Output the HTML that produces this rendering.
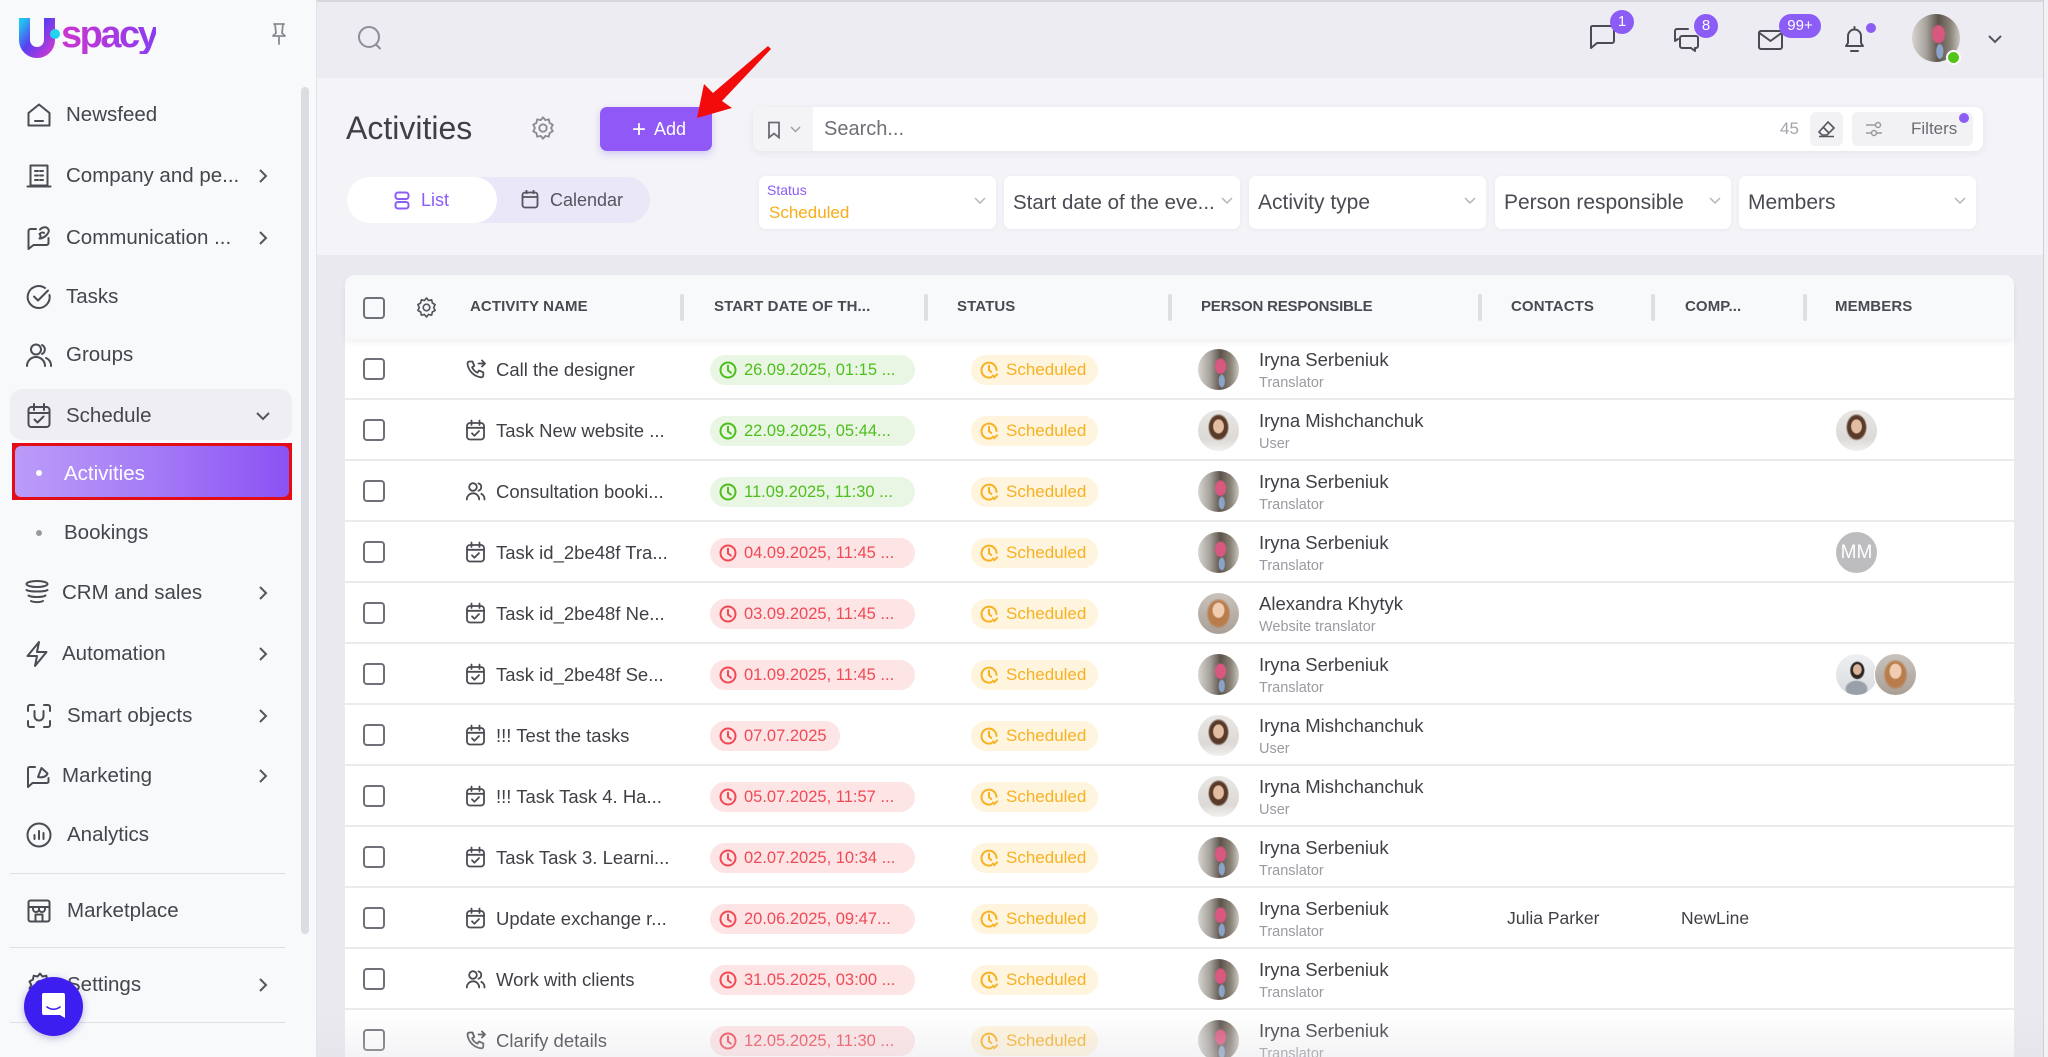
<!DOCTYPE html>
<html style="width:2048px;height:1057px;overflow:hidden"><head><meta charset="utf-8">
<style>
*{box-sizing:border-box;margin:0;padding:0}
html,body{width:2048px;height:1057px;overflow:hidden}
body{position:relative;font-family:"Liberation Sans",Arial,sans-serif;background:#e9e9ef;color:#3f3f46}
#root{position:absolute;left:0;top:0;width:2048px;height:1057px;overflow:hidden}
.a{position:absolute}
svg.i{position:absolute;fill:none;stroke:#4b4b53;stroke-width:2;stroke-linecap:round;stroke-linejoin:round}
.si{position:absolute;height:26px;line-height:26px;font-size:20.5px;color:#45454d;white-space:nowrap}
.chev{position:absolute;left:258px;width:10px;height:16px}
.dv{position:absolute;left:10px;width:275px;height:1px;background:#dfe0e5}
.fb{position:absolute;top:176px;height:53px;background:#fff;border-radius:7px;box-shadow:0 1px 4px rgba(60,60,90,.06)}
.fb .t{position:absolute;left:9px;top:0;line-height:53px;font-size:21px;color:#4a4a52;white-space:nowrap;overflow:hidden;width:210px}
.fb svg{position:absolute;right:10px;top:21px;width:12px;height:8px;fill:none;stroke:#b4b4bc;stroke-width:1.5}
.th{position:absolute;top:296px;line-height:20px;font-size:15px;font-weight:bold;color:#4a4a52;letter-spacing:.1px;white-space:nowrap}
.sep{position:absolute;top:293px;width:4px;height:27px;border-radius:2px;background:#dedee3}
.r{position:absolute;left:345px;width:1669px;height:61px;background:#fff;border-bottom:2px solid #ebebee}
.cb{position:absolute;left:18px;top:19px;width:22px;height:22px;border:2px solid #707078;border-radius:4px}
.r svg.ic{position:absolute;left:120px;top:19px;width:21px;height:22px;fill:none;stroke:#4b4b53;stroke-width:1.8;stroke-linecap:round;stroke-linejoin:round}
.nm{position:absolute;left:151px;top:1px;line-height:59px;font-size:18.5px;color:#3f3f46;white-space:nowrap}
.dp{position:absolute;left:365px;top:16px;width:205px;height:30px;border-radius:15px;font-size:16.5px;line-height:30px;padding-left:34px;white-space:nowrap}
.dp svg,.sp svg{position:absolute;left:8px;top:5px;width:20px;height:20px;fill:none;stroke:currentColor;stroke-width:2;stroke-linecap:round}
.g{background:#e9f6e4;color:#4fbf1d}
.rd{background:#fde4e5;color:#f04a56}
.sp{position:absolute;left:626px;top:16px;width:127px;height:30px;border-radius:15px;background:#fff4dd;color:#f7b122;font-size:17px;line-height:30px;padding-left:35px}
.av{position:absolute;left:853px;top:10px;width:41px;height:41px;border-radius:50%}
.s1{background:radial-gradient(ellipse 22% 30% at 55% 42%,#d9587f 0 55%,rgba(217,88,127,0) 70%),radial-gradient(ellipse 12% 25% at 58% 78%,#8aa3c6 0 55%,rgba(0,0,0,0) 70%),linear-gradient(90deg,#d7d5d2 0%,#a5a09a 30%,#5c534b 55%,#8c8378 80%,#c9c5bf 100%)}
.s2{background:radial-gradient(ellipse 20% 26% at 50% 40%,#e3bda2 0 60%,rgba(0,0,0,0) 72%),radial-gradient(ellipse 36% 46% at 50% 42%,#5a3a28 0 60%,rgba(0,0,0,0) 72%),linear-gradient(#e9e7e5,#dcd9d6 70%,#f2f0ee)}
.s3{background:radial-gradient(ellipse 22% 28% at 50% 42%,#f0cdb0 0 60%,rgba(0,0,0,0) 72%),radial-gradient(ellipse 40% 50% at 50% 50%,#b97d4c 0 60%,rgba(0,0,0,0) 75%),linear-gradient(#c9c3bd,#a99f96)}
.s4{background:radial-gradient(ellipse 16% 20% at 52% 38%,#d9b39a 0 60%,rgba(0,0,0,0) 72%),radial-gradient(ellipse 26% 32% at 52% 40%,#2f2622 0 60%,rgba(0,0,0,0) 72%),radial-gradient(ellipse 40% 30% at 50% 85%,#9aa0aa 0 60%,rgba(0,0,0,0) 72%),linear-gradient(#eef0f2,#d8dbdf)}
.pn{position:absolute;left:914px;top:10px;line-height:22px;font-size:18.5px;color:#3f3f46;white-space:nowrap}
.pr{position:absolute;left:914px;top:35px;line-height:18px;font-size:14.5px;color:#9a9aa2;white-space:nowrap}
.ct{position:absolute;top:1px;line-height:59px;font-size:17.5px;color:#3f3f46;white-space:nowrap}
.mb{position:absolute;top:9px;width:43px;height:43px;border-radius:50%;border:1px solid #fff}
.bdg{position:absolute;background:#8b5cf6;color:#fff;font-size:15px;text-align:center;border-radius:12px}
</style></head><body>
<div id="root">
<svg width="0" height="0" style="position:absolute">
<symbol id="clk" viewBox="0 0 20 20"><circle cx="10" cy="10" r="7.5"/><path d="M10 5.8V10.5L12.8 12.6"/></symbol>
<symbol id="sclk" viewBox="0 0 20 20"><path d="M12.5 17.2A7.5 7.5 0 1 1 17.5 10"/><path d="M10 5.8V10.2L12.3 12"/><path d="M13.8 15.6l1.5 1.5 2.8-2.8"/></symbol>
<symbol id="cal" viewBox="0 0 21 22"><rect x="2" y="4" width="17" height="16.5" rx="3"/><path d="M6.5 1.5v4.5M14.5 1.5v4.5M2 8.8h17M7 14.3l2.4 2.4 4.6-4.6"/></symbol>
<symbol id="phone" viewBox="0 0 21 22"><path d="M4.5 3.5h3l1.8 4.4-2.2 1.4a10.5 10.5 0 0 0 5.4 5.4l1.4-2.2 4.4 1.8v3a2 2 0 0 1-2.2 2A15.5 15.5 0 0 1 2.5 5.7a2 2 0 0 1 2-2.2z"/><path d="M13.5 5.5h6.3M17 2.5l3 3-3 3"/></symbol>
<symbol id="ppl" viewBox="0 0 21 22"><circle cx="8" cy="7" r="3.8"/><path d="M1.8 19.5a6.2 6.2 0 0 1 12.4 0"/><path d="M13.5 3.4a3.8 3.8 0 0 1 0 7.3M16.3 13.8a6 6 0 0 1 3.2 5.7"/></symbol>
</svg>

<!-- SIDEBAR -->
<div class="a" style="left:0;top:0;width:317px;height:1057px;background:#f8f9fb;border-right:1px solid #e3e4ea"></div>
<svg class="a" style="left:14px;top:14px" width="50" height="48" viewBox="14 14 50 48">
<defs><linearGradient id="ug" x1="0" y1="0" x2="1" y2="1"><stop offset="0" stop-color="#20c4f0"/><stop offset=".45" stop-color="#5b3df2"/><stop offset="1" stop-color="#c23ad4"/></linearGradient></defs>
<path d="M24.5 18V40A12.5 12.5 0 0 0 49.5 40V18" fill="none" stroke="url(#ug)" stroke-width="11"/>
<circle cx="55" cy="34" r="5" fill="#22d3ee"/>
</svg>
<div class="a" style="left:61px;top:16px;font-size:38px;font-weight:bold;letter-spacing:-2.5px;line-height:38px;background:linear-gradient(90deg,#cc36cf,#8a3cf0);-webkit-background-clip:text;background-clip:text;color:transparent">spacy</div>
<svg class="i" style="left:270px;top:22px" width="18" height="24" viewBox="0 0 18 24"><path d="M4 2h10M5 2l1 9-3 3h12l-3-3 1-9M9 14v8" stroke="#8a8a92" stroke-width="1.8"/></svg>

<div class="a" style="left:301px;top:87px;width:8px;height:847px;border-radius:4px;background:#dcdde3"></div>

<svg class="i" style="left:26px;top:102px" width="26" height="26" viewBox="0 0 26 26"><path d="M2.5 11L13 2.5 23.5 11v12.5h-21z"/><path d="M9 19h8"/></svg>
<div class="si" style="left:66px;top:102px">Newsfeed</div>

<svg class="i" style="left:26px;top:163px" width="26" height="26" viewBox="0 0 26 26"><rect x="4.5" y="2.5" width="17" height="20"/><path d="M1.5 23.5h23M9 8h3M14 8h3M9 12.5h3M14 12.5h3M9 17h3M14 17h3"/></svg>
<div class="si" style="left:66px;top:163px">Company and pe...</div>
<svg class="chev" style="top:168px" viewBox="0 0 10 16"><path d="M2 2l6 6-6 6" fill="none" stroke="#55555d" stroke-width="2"/></svg>

<svg class="i" style="left:26px;top:225px" width="26" height="26" viewBox="0 0 26 26"><path d="M10 4H4.5a2 2 0 0 0-2 2v18l5-4h13a2 2 0 0 0 2-2v-5"/><path d="M14 4.5c3-3 7-3 8.5 0s-4 9-9 9c1.5-1.5 1.5-3 0-4.5 2-2 3-2 4.5-1"/></svg>
<div class="si" style="left:66px;top:225px">Communication ...</div>
<svg class="chev" style="top:230px" viewBox="0 0 10 16"><path d="M2 2l6 6-6 6" fill="none" stroke="#55555d" stroke-width="2"/></svg>

<svg class="i" style="left:25px;top:283px" width="28" height="28" viewBox="0 0 28 28"><path d="M24.5 12A11 11 0 1 1 20 5"/><path d="M9 13.5l4 4 10-10"/></svg>
<div class="si" style="left:66px;top:284px">Tasks</div>

<svg class="i" style="left:25px;top:342px" width="28" height="26" viewBox="0 0 28 26"><circle cx="11" cy="7.5" r="5"/><path d="M2 24a9 9 0 0 1 18 0"/><path d="M17 3a5 5 0 0 1 0 9M21 16a8 8 0 0 1 5 8"/></svg>
<div class="si" style="left:66px;top:342px">Groups</div>

<div class="a" style="left:10px;top:389px;width:282px;height:51px;border-radius:12px;background:#efeff3"></div>
<svg class="i" style="left:26px;top:402px" width="26" height="27" viewBox="0 0 26 27"><rect x="2.5" y="5" width="21" height="20" rx="3"/><path d="M8 2v6M18 2v6M2.5 11h21M8.5 17.5l3 3 6-6"/></svg>
<div class="si" style="left:66px;top:403px">Schedule</div>
<svg class="a" style="left:255px;top:410px" width="16" height="12" viewBox="0 0 16 12"><path d="M2 3l6 6 6-6" fill="none" stroke="#55555d" stroke-width="2"/></svg>

<div class="a" style="left:12px;top:443px;width:280px;height:57px;background:#e30d17"></div>
<div class="a" style="left:15px;top:446px;width:274px;height:51px;border-radius:6px;background:linear-gradient(90deg,#bb9cf8,#a57bf6 50%,#8b52f4)"></div>
<div class="a" style="left:36px;top:470px;width:6px;height:6px;border-radius:50%;background:#fff"></div>
<div class="si" style="left:64px;top:461px;color:#fff">Activities</div>

<div class="a" style="left:36px;top:530px;width:6px;height:6px;border-radius:50%;background:#9a9aa2"></div>
<div class="si" style="left:64px;top:520px">Bookings</div>

<svg class="i" style="left:24px;top:579px" width="26" height="28" viewBox="0 0 26 28"><ellipse cx="13" cy="5" rx="10.5" ry="3"/><path d="M2.5 11c3 2 18 2 21 0M4.5 16.5c3 2 14 2 17 0M7 22c3 1.5 9 1.5 12 0"/></svg>
<div class="si" style="left:62px;top:580px">CRM and sales</div>
<svg class="chev" style="top:585px" viewBox="0 0 10 16"><path d="M2 2l6 6-6 6" fill="none" stroke="#55555d" stroke-width="2"/></svg>

<svg class="i" style="left:25px;top:640px" width="24" height="28" viewBox="0 0 24 28"><path d="M14 2L2.5 16H12l-2 10L21.5 12H12z"/></svg>
<div class="si" style="left:62px;top:641px">Automation</div>
<svg class="chev" style="top:646px" viewBox="0 0 10 16"><path d="M2 2l6 6-6 6" fill="none" stroke="#55555d" stroke-width="2"/></svg>

<svg class="i" style="left:26px;top:703px" width="26" height="26" viewBox="0 0 26 26"><path d="M2 8V4a2 2 0 0 1 2-2h4M18 2h4a2 2 0 0 1 2 2v4M24 18v4a2 2 0 0 1-2 2h-4M8 24H4a2 2 0 0 1-2-2v-4M8.5 8v5a4.5 4.5 0 0 0 9 0V8"/></svg>
<div class="si" style="left:67px;top:703px">Smart objects</div>
<svg class="chev" style="top:708px" viewBox="0 0 10 16"><path d="M2 2l6 6-6 6" fill="none" stroke="#55555d" stroke-width="2"/></svg>

<svg class="i" style="left:26px;top:763px" width="24" height="26" viewBox="0 0 24 26"><path d="M9 4H3.5a1.5 1.5 0 0 0-1.5 1.5V24l4.5-4H21a1.5 1.5 0 0 0 1.5-1.5V15"/><path d="M12 14l3.5-9 6 5.5c-1 3-5 4.5-9.5 3.5z"/></svg>
<div class="si" style="left:62px;top:763px">Marketing</div>
<svg class="chev" style="top:768px" viewBox="0 0 10 16"><path d="M2 2l6 6-6 6" fill="none" stroke="#55555d" stroke-width="2"/></svg>

<svg class="i" style="left:25px;top:821px" width="28" height="28" viewBox="0 0 28 28"><circle cx="14" cy="14" r="11.5"/><path d="M9.5 18v-4M14 18v-8M18.5 18v-6"/></svg>
<div class="si" style="left:67px;top:822px">Analytics</div>

<div class="dv" style="top:873px"></div>
<svg class="i" style="left:26px;top:898px" width="26" height="26" viewBox="0 0 26 26"><rect x="2.5" y="2.5" width="21" height="21" rx="2"/><path d="M2.5 9h21M7 9v2a3 3 0 0 0 6 0V9M13 11a3 3 0 0 0 6 0V9M9.5 23.5v-7h7v7"/></svg>
<div class="si" style="left:67px;top:898px">Marketplace</div>
<div class="dv" style="top:947px"></div>
<svg class="i" style="left:26px;top:971px" width="28" height="28" viewBox="0 0 28 28"><circle cx="14" cy="14" r="4"/><path d="M14 2.5l2.5 3 3.8-.8.8 3.8 3.4 2-1.8 3.5 1.8 3.5-3.4 2-.8 3.8-3.8-.8-2.5 3-2.5-3-3.8.8-.8-3.8-3.4-2 1.8-3.5-1.8-3.5 3.4-2 .8-3.8 3.8.8z"/></svg>
<div class="si" style="left:67px;top:972px">Settings</div>
<svg class="chev" style="top:977px" viewBox="0 0 10 16"><path d="M2 2l6 6-6 6" fill="none" stroke="#55555d" stroke-width="2"/></svg>
<div class="dv" style="top:1022px"></div>

<div class="a" style="left:24px;top:977px;width:59px;height:59px;border-radius:50%;background:#3c1ff0;box-shadow:0 2px 8px rgba(40,20,160,.3)"></div>
<svg class="a" style="left:41px;top:992px" width="25" height="28" viewBox="0 0 25 28"><path d="M3 1h19a2 2 0 0 1 2 2v23l-5-3H3a2 2 0 0 1-2-2V3a2 2 0 0 1 2-2z" fill="#fff"/><path d="M6 15c4 3 9 3 13 0" fill="none" stroke="#3c1ff0" stroke-width="1.6" stroke-linecap="round"/></svg>

<!-- TOP BAR -->
<div class="a" style="left:317px;top:0;width:1731px;height:78px;background:#ececf2;border-top:2px solid #d6d6db"></div>
<div class="a" style="left:317px;top:78px;width:1731px;height:177px;background:#f3f3f8"></div>
<div class="a" style="left:2043px;top:0;width:1px;height:1057px;background:#cfd0d6"></div>
<div class="a" style="left:2044px;top:0;width:4px;height:1057px;background:#f2f2f5"></div>

<svg class="i" style="left:355px;top:24px" width="30" height="30" viewBox="0 0 30 30"><circle cx="14" cy="13" r="10" stroke="#8e8e96"/><path d="M21 20.5l4 4" stroke="#8e8e96"/></svg>

<svg class="i" style="left:1588px;top:24px" width="28" height="26" viewBox="0 0 28 26"><path d="M4 2h20a2 2 0 0 1 2 2v13a2 2 0 0 1-2 2H9l-6 5V4a2 2 0 0 1 1-2z"/></svg>
<div class="bdg" style="left:1610px;top:10px;width:24px;height:24px;line-height:24px">1</div>
<svg class="i" style="left:1673px;top:27px" width="28" height="26" viewBox="0 0 28 26"><path d="M15 2H4a2 2 0 0 0-2 2v10l3-2"/><path d="M9 9h14a2 2 0 0 1 2 2v8a2 2 0 0 1-2 2h-1v3l-4-3H9a2 2 0 0 1-2-2v-8a2 2 0 0 1 2-2z"/></svg>
<div class="bdg" style="left:1694px;top:14px;width:24px;height:24px;line-height:24px">8</div>
<svg class="i" style="left:1757px;top:29px" width="28" height="22" viewBox="0 0 28 22"><rect x="2" y="2" width="23" height="18" rx="2"/><path d="M2.5 4l11 8 11-8"/></svg>
<div class="bdg" style="left:1779px;top:14px;width:42px;height:24px;line-height:24px">99+</div>
<svg class="i" style="left:1841px;top:25px" width="28" height="30" viewBox="0 0 28 30"><path d="M5 21h17l-2-3V11a6.5 6.5 0 0 0-13 0v7z"/><path d="M10 26h7M13.5 2v2"/></svg>
<div class="a" style="left:1866px;top:23px;width:10px;height:10px;border-radius:50%;background:#8b5cf6"></div>
<div class="a s1" style="left:1912px;top:14px;width:48px;height:48px;border-radius:50%"></div>
<div class="a" style="left:1946px;top:50px;width:15px;height:15px;border-radius:50%;background:#52c41a;border:2px solid #fff"></div>
<svg class="a" style="left:1987px;top:34px" width="16" height="10" viewBox="0 0 16 10"><path d="M2 2l6 6 6-6" fill="none" stroke="#55555d" stroke-width="2"/></svg>

<!-- HEADER -->
<div class="a" style="left:346px;top:109px;font-size:32px;line-height:38px;color:#3f3f46">Activities</div>
<svg class="i" style="left:530px;top:115px" width="26" height="26" viewBox="0 0 28 28"><circle cx="14" cy="14" r="4" stroke="#8a8a92"/><path stroke="#8a8a92" d="M14 2.5l2.5 3 3.8-.8.8 3.8 3.4 2-1.8 3.5 1.8 3.5-3.4 2-.8 3.8-3.8-.8-2.5 3-2.5-3-3.8.8-.8-3.8-3.4-2 1.8-3.5-1.8-3.5 3.4-2 .8-3.8 3.8.8z"/></svg>
<div class="a" style="left:600px;top:107px;width:112px;height:44px;border-radius:7px;background:#8f58f7;box-shadow:0 3px 8px rgba(120,70,230,.25);color:#fff;font-size:18px;line-height:44px;text-align:center;padding-left:6px"><span style="font-size:24px;vertical-align:-2px;margin-right:8px">+</span>Add</div>
<svg class="a" style="left:690px;top:40px" width="90" height="85" viewBox="690 40 90 85"><polygon points="697,118 704,84 713,93 768,46 771,49 722,101 732,108" fill="#f30b0b"/></svg>

<div class="a" style="left:347px;top:177px;width:303px;height:46px;border-radius:23px;background:#e9e7f8"></div>
<div class="a" style="left:347px;top:177px;width:150px;height:46px;border-radius:23px;background:#fff"></div>
<svg class="a" style="left:394px;top:191px" width="16" height="19" viewBox="0 0 16 19" fill="none" stroke="#8b5cf6" stroke-width="2"><rect x="1.5" y="1.5" width="13" height="6.5" rx="2.5"/><rect x="1.5" y="11" width="13" height="6.5" rx="2.5"/></svg>
<div class="a" style="left:421px;top:189px;font-size:18px;line-height:22px;color:#8b5cf6">List</div>
<svg class="a" style="left:521px;top:189px" width="18" height="20" viewBox="0 0 18 20" fill="none" stroke="#55555d" stroke-width="1.8"><rect x="1.5" y="3.5" width="15" height="15" rx="2.5"/><path d="M5.5 1v4M12.5 1v4M1.5 8h15"/></svg>
<div class="a" style="left:550px;top:189px;font-size:18px;line-height:22px;color:#55555d">Calendar</div>

<div class="a" style="left:753px;top:107px;width:1230px;height:44px;border-radius:8px;background:#fff;box-shadow:0 2px 7px rgba(60,60,90,.08)"></div>
<div class="a" style="left:753px;top:107px;width:60px;height:44px;border-radius:8px 0 0 8px;background:#f4f4f7"></div>
<svg class="a" style="left:767px;top:121px" width="38" height="18" viewBox="0 0 38 18" fill="none" stroke="#6b6b73" stroke-width="1.8"><path d="M2 1.5h10v15l-5-4-5 4z"/><path d="M24 6l4.5 4.5L33 6" stroke="#a0a0a8" stroke-width="1.5"/></svg>
<div class="a" style="left:824px;top:117px;font-size:20px;line-height:24px;color:#6f6f77">Search...</div>
<div class="a" style="left:1780px;top:119px;font-size:17px;line-height:20px;color:#a4a4ac">45</div>
<div class="a" style="left:1810px;top:112px;width:33px;height:34px;border-radius:6px;background:#f2f2f5"></div>
<svg class="a" style="left:1817px;top:120px" width="20" height="18" viewBox="0 0 20 18" fill="none" stroke="#55555d" stroke-width="1.6"><path d="M11 2l6 6-7 7H5l-3-3z"/><path d="M6 7l6 6M2 16.5h15"/></svg>
<div class="a" style="left:1852px;top:112px;width:121px;height:34px;border-radius:6px;background:#f2f2f5"></div>
<svg class="a" style="left:1865px;top:121px" width="18" height="16" viewBox="0 0 18 16" fill="none" stroke="#9a9aa2" stroke-width="1.5"><path d="M1 4h9M1 12h5"/><circle cx="13" cy="4" r="2.5"/><circle cx="9" cy="12" r="2.5"/><path d="M12 12h5"/></svg>
<div class="a" style="left:1911px;top:119px;font-size:17px;line-height:20px;color:#6b6b73">Filters</div>
<div class="a" style="left:1959px;top:113px;width:10px;height:10px;border-radius:50%;background:#8b5cf6"></div>

<div class="fb" style="left:759px;width:237px"><div class="a" style="left:8px;top:5px;font-size:14px;line-height:18px;color:#8b5cf6">Status</div><div class="a" style="left:10px;top:27px;font-size:17px;line-height:20px;color:#f7ad16">Scheduled</div><svg viewBox="0 0 12 8"><path d="M1 1l5 5 5-5"/></svg></div>
<div class="fb" style="left:1004px;width:236px"><div class="t" style="width:214px;font-size:20.5px">Start date of the eve...</div><svg style="right:7px" viewBox="0 0 12 8"><path d="M1 1l5 5 5-5"/></svg></div>
<div class="fb" style="left:1249px;width:237px"><div class="t">Activity type</div><svg viewBox="0 0 12 8"><path d="M1 1l5 5 5-5"/></svg></div>
<div class="fb" style="left:1495px;width:236px"><div class="t">Person responsible</div><svg viewBox="0 0 12 8"><path d="M1 1l5 5 5-5"/></svg></div>
<div class="fb" style="left:1739px;width:237px"><div class="t">Members</div><svg viewBox="0 0 12 8"><path d="M1 1l5 5 5-5"/></svg></div>

<!-- TABLE -->
<div class="a" style="left:345px;top:275px;width:1669px;height:782px;border-radius:10px 10px 0 0;background:#fff"></div>
<div class="a" style="left:345px;top:275px;width:1669px;height:64px;border-radius:10px 10px 0 0;background:#f8f9fb;box-shadow:0 3px 6px rgba(0,0,0,.06);z-index:2"></div>
<div style="position:absolute;left:0;top:1px;z-index:3">
<div class="a" style="left:363px;top:296px;width:22px;height:22px;border:2px solid #707078;border-radius:4px"></div>
<svg class="i" style="left:415px;top:295px" width="23" height="23" viewBox="0 0 28 28"><circle cx="14" cy="14" r="4" stroke="#55555d"/><path stroke="#55555d" d="M14 2.5l2.5 3 3.8-.8.8 3.8 3.4 2-1.8 3.5 1.8 3.5-3.4 2-.8 3.8-3.8-.8-2.5 3-2.5-3-3.8.8-.8-3.8-3.4-2 1.8-3.5-1.8-3.5 3.4-2 .8-3.8 3.8.8z"/></svg>
<div class="th" style="left:470px">ACTIVITY NAME</div>
<div class="sep" style="left:680px"></div>
<div class="th" style="left:714px">START DATE OF TH...</div>
<div class="sep" style="left:924px"></div>
<div class="th" style="left:957px">STATUS</div>
<div class="sep" style="left:1168px"></div>
<div class="th" style="left:1201px;letter-spacing:-0.2px">PERSON RESPONSIBLE</div>
<div class="sep" style="left:1478px"></div>
<div class="th" style="left:1511px">CONTACTS</div>
<div class="sep" style="left:1651px"></div>
<div class="th" style="left:1685px">COMP...</div>
<div class="sep" style="left:1803px"></div>
<div class="th" style="left:1835px">MEMBERS</div>
</div>

<div class="r" style="top:339px"><div class="cb"></div><svg class="ic"><use href="#phone"/></svg><div class="nm">Call the designer</div><div class="dp g"><svg><use href="#clk"/></svg>26.09.2025, 01:15 ...</div><div class="sp"><svg><use href="#sclk"/></svg>Scheduled</div><div class="av s1"></div><div class="pn">Iryna Serbeniuk</div><div class="pr">Translator</div></div>

<div class="r" style="top:400px"><div class="cb"></div><svg class="ic"><use href="#cal"/></svg><div class="nm">Task New website ...</div><div class="dp g"><svg><use href="#clk"/></svg>22.09.2025, 05:44...</div><div class="sp"><svg><use href="#sclk"/></svg>Scheduled</div><div class="av s2"></div><div class="pn">Iryna Mishchanchuk</div><div class="pr">User</div><div class="mb s2" style="left:1490px"></div></div>

<div class="r" style="top:461px"><div class="cb"></div><svg class="ic"><use href="#ppl"/></svg><div class="nm">Consultation booki...</div><div class="dp g"><svg><use href="#clk"/></svg>11.09.2025, 11:30 ...</div><div class="sp"><svg><use href="#sclk"/></svg>Scheduled</div><div class="av s1"></div><div class="pn">Iryna Serbeniuk</div><div class="pr">Translator</div></div>

<div class="r" style="top:522px"><div class="cb"></div><svg class="ic"><use href="#cal"/></svg><div class="nm">Task id_2be48f Tra...</div><div class="dp rd"><svg><use href="#clk"/></svg>04.09.2025, 11:45 ...</div><div class="sp"><svg><use href="#sclk"/></svg>Scheduled</div><div class="av s1"></div><div class="pn">Iryna Serbeniuk</div><div class="pr">Translator</div><div class="mb" style="left:1490px;background:#bdbdbf;color:#fff;font-size:19px;line-height:41px;text-align:center">MM</div></div>

<div class="r" style="top:583px"><div class="cb"></div><svg class="ic"><use href="#cal"/></svg><div class="nm">Task id_2be48f Ne...</div><div class="dp rd"><svg><use href="#clk"/></svg>03.09.2025, 11:45 ...</div><div class="sp"><svg><use href="#sclk"/></svg>Scheduled</div><div class="av s3"></div><div class="pn">Alexandra Khytyk</div><div class="pr">Website translator</div></div>

<div class="r" style="top:644px"><div class="cb"></div><svg class="ic"><use href="#cal"/></svg><div class="nm">Task id_2be48f Se...</div><div class="dp rd"><svg><use href="#clk"/></svg>01.09.2025, 11:45 ...</div><div class="sp"><svg><use href="#sclk"/></svg>Scheduled</div><div class="av s1"></div><div class="pn">Iryna Serbeniuk</div><div class="pr">Translator</div><div class="mb s4" style="left:1490px"></div><div class="mb s3" style="left:1529px"></div></div>

<div class="r" style="top:705px"><div class="cb"></div><svg class="ic"><use href="#cal"/></svg><div class="nm">!!! Test the tasks</div><div class="dp rd" style="width:130px"><svg><use href="#clk"/></svg>07.07.2025</div><div class="sp"><svg><use href="#sclk"/></svg>Scheduled</div><div class="av s2"></div><div class="pn">Iryna Mishchanchuk</div><div class="pr">User</div></div>

<div class="r" style="top:766px"><div class="cb"></div><svg class="ic"><use href="#cal"/></svg><div class="nm">!!! Task Task 4. Ha...</div><div class="dp rd"><svg><use href="#clk"/></svg>05.07.2025, 11:57 ...</div><div class="sp"><svg><use href="#sclk"/></svg>Scheduled</div><div class="av s2"></div><div class="pn">Iryna Mishchanchuk</div><div class="pr">User</div></div>

<div class="r" style="top:827px"><div class="cb"></div><svg class="ic"><use href="#cal"/></svg><div class="nm">Task Task 3. Learni...</div><div class="dp rd"><svg><use href="#clk"/></svg>02.07.2025, 10:34 ...</div><div class="sp"><svg><use href="#sclk"/></svg>Scheduled</div><div class="av s1"></div><div class="pn">Iryna Serbeniuk</div><div class="pr">Translator</div></div>

<div class="r" style="top:888px"><div class="cb"></div><svg class="ic"><use href="#cal"/></svg><div class="nm">Update exchange r...</div><div class="dp rd"><svg><use href="#clk"/></svg>20.06.2025, 09:47...</div><div class="sp"><svg><use href="#sclk"/></svg>Scheduled</div><div class="av s1"></div><div class="pn">Iryna Serbeniuk</div><div class="pr">Translator</div><div class="ct" style="left:1162px">Julia Parker</div><div class="ct" style="left:1336px">NewLine</div></div>

<div class="r" style="top:949px"><div class="cb"></div><svg class="ic"><use href="#ppl"/></svg><div class="nm">Work with clients</div><div class="dp rd"><svg><use href="#clk"/></svg>31.05.2025, 03:00 ...</div><div class="sp"><svg><use href="#sclk"/></svg>Scheduled</div><div class="av s1"></div><div class="pn">Iryna Serbeniuk</div><div class="pr">Translator</div></div>

<div class="r" style="top:1010px;height:47px;overflow:hidden;border-bottom:none"><div class="cb"></div><svg class="ic"><use href="#phone"/></svg><div class="nm">Clarify details</div><div class="dp rd"><svg><use href="#clk"/></svg>12.05.2025, 11:30 ...</div><div class="sp"><svg><use href="#sclk"/></svg>Scheduled</div><div class="av s1"></div><div class="pn">Iryna Serbeniuk</div><div class="pr">Translator</div></div>

<div class="a" style="left:317px;top:1012px;width:1726px;height:45px;background:linear-gradient(rgba(238,238,242,0),rgba(222,222,228,0.35));z-index:4"></div>
</div>
</body></html>
